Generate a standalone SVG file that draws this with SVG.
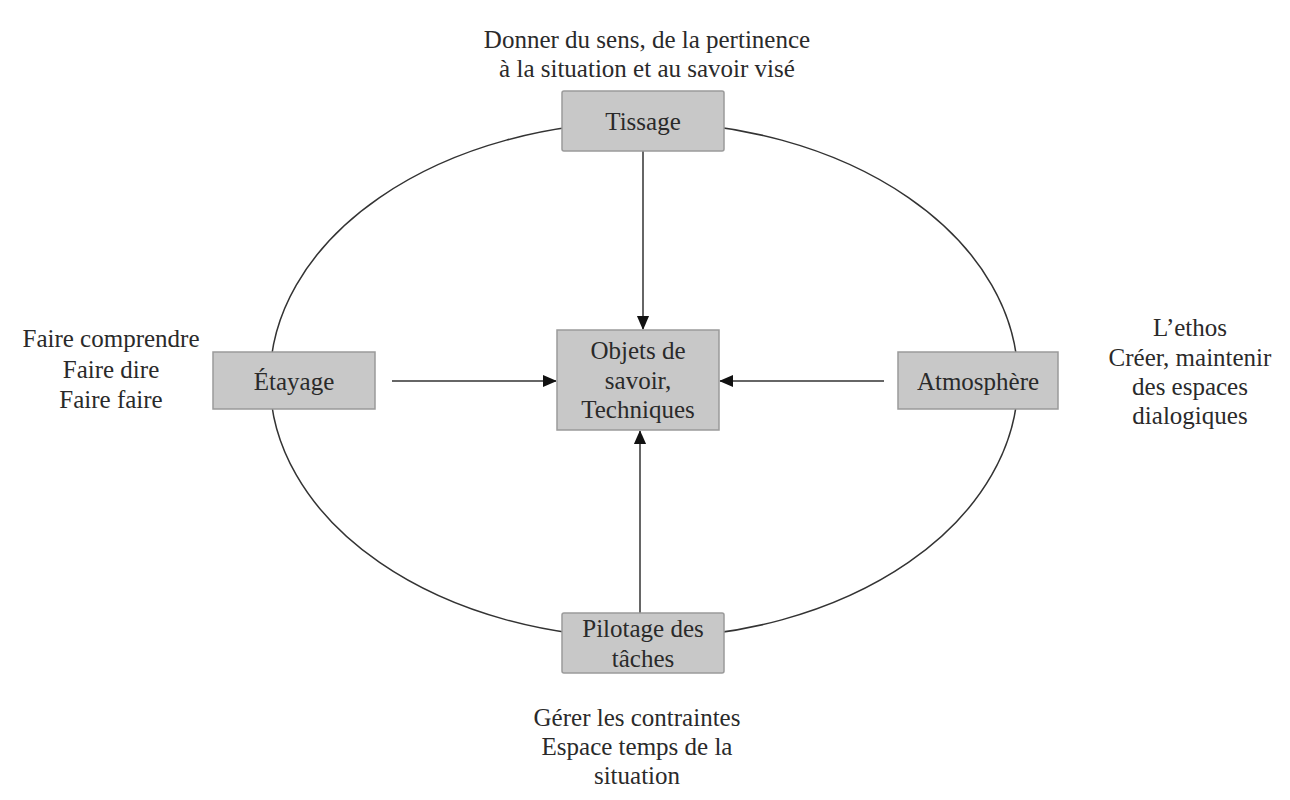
<svg xmlns="http://www.w3.org/2000/svg" width="1290" height="800" viewBox="0 0 1290 800">
<style>
.box{fill:#c8c8c8;stroke:#9a9a9a;stroke-width:1.5}
.t{font-family:"Liberation Serif","Times New Roman",serif;font-size:25px;fill:#2a2a2a;text-anchor:middle}
.c{stroke:#333;stroke-width:1.5;fill:none}
</style>
<defs>
<marker id="ah" markerWidth="14" markerHeight="16" refX="15" refY="7" orient="auto" markerUnits="userSpaceOnUse" viewBox="0 0 16 14">
<path d="M0,0 L16,7 L0,14 Z" fill="#111"/>
</marker>
</defs>
<rect width="1290" height="800" fill="#fff"/>
<g id="connectors">
<ellipse class="c" cx="644" cy="380" rx="374" ry="258"/>
<line class="c" x1="643" y1="151" x2="643" y2="329" marker-end="url(#ah)"/>
<line class="c" x1="392" y1="381" x2="556" y2="381" marker-end="url(#ah)"/>
<line class="c" x1="884" y1="381" x2="720" y2="381" marker-end="url(#ah)"/>
<line class="c" x1="640" y1="613" x2="640" y2="431" marker-end="url(#ah)"/>
</g>
<g id="tissage">
<rect class="box" x="562" y="91" width="162" height="60" rx="2"/>
<text class="t" x="643" y="130">Tissage</text>
</g>
<g id="etayage">
<rect class="box" x="213" y="352" width="162" height="57"/>
<text class="t" x="294" y="390">Étayage</text>
</g>
<g id="objets">
<rect class="box" x="557" y="330" width="162" height="100"/>
<text class="t" x="638" y="359">Objets de</text>
<text class="t" x="638" y="389">savoir,</text>
<text class="t" x="638" y="418">Techniques</text>
</g>
<g id="atmosphere">
<rect class="box" x="898" y="352" width="160" height="57"/>
<text class="t" x="978" y="390">Atmosphère</text>
</g>
<g id="pilotage">
<rect class="box" x="562" y="613" width="162" height="60" rx="2"/>
<text class="t" x="643" y="637">Pilotage des</text>
<text class="t" x="643" y="667">tâches</text>
</g>
<g id="labels">
<text class="t" x="647" y="48">Donner du sens, de la pertinence</text>
<text class="t" x="647" y="77">à la situation et au savoir visé</text>
<text class="t" x="111" y="347">Faire comprendre</text>
<text class="t" x="111" y="378">Faire dire</text>
<text class="t" x="111" y="408">Faire faire</text>
<text class="t" x="1190" y="336">L’ethos</text>
<text class="t" x="1190" y="366">Créer, maintenir</text>
<text class="t" x="1190" y="395">des espaces</text>
<text class="t" x="1190" y="424">dialogiques</text>
<text class="t" x="637" y="726">Gérer les contraintes</text>
<text class="t" x="637" y="755">Espace temps de la</text>
<text class="t" x="637" y="784">situation</text>
</g>
</svg>
